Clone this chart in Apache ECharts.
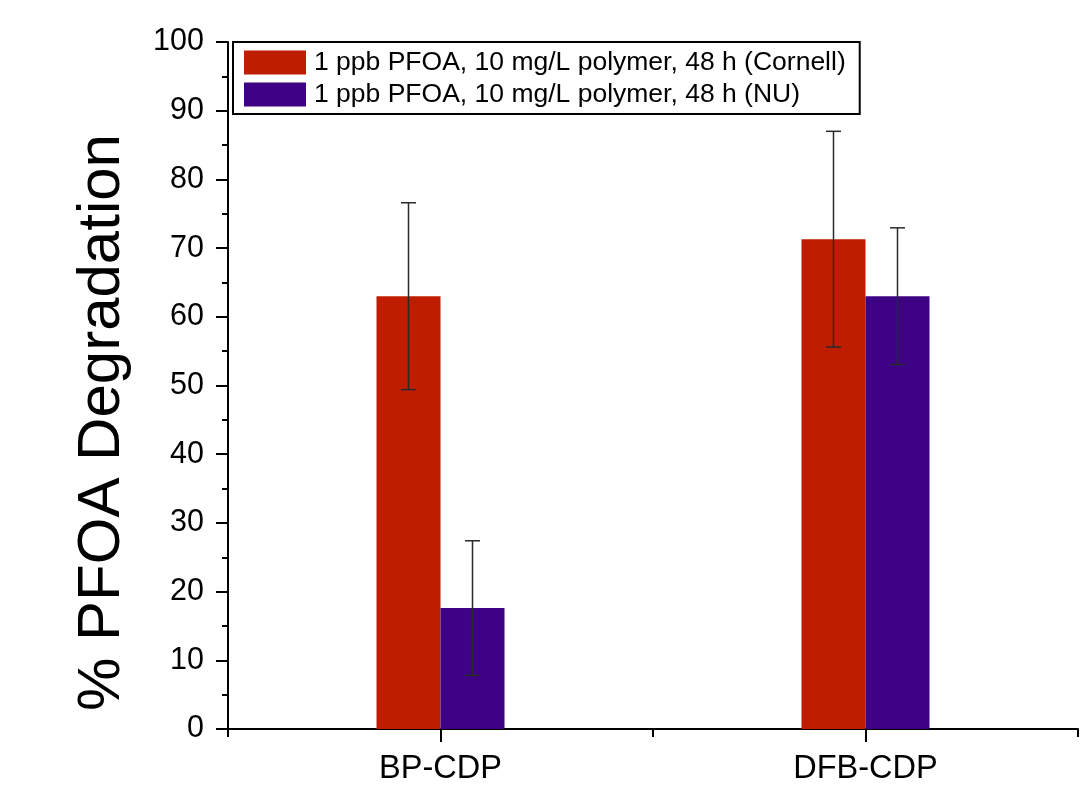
<!DOCTYPE html>
<html>
<head>
<meta charset="utf-8">
<script src="https://cdn.jsdelivr.net/npm/echarts@6/dist/echarts.min.js"></script>
<style>
html,body{margin:0;padding:0;background:#fff;}
#chart{width:1082px;height:797px;}
</style>
</head>
<body>
<div id="chart"></div>
<script>
var categories = ['BP-CDP', 'DFB-CDP'];
var seriesNames = ['1 ppb PFOA, 10 mg/L polymer, 48 h (Cornell)', '1 ppb PFOA, 10 mg/L polymer, 48 h (NU)'];
var cornellValues = [63.0, 71.3];
var cornellErrors = [13.6, 15.7];
var nuValues = [17.6, 63.0];
var nuErrors = [9.8, 9.95];
var yTicks = [0, 10, 20, 30, 40, 50, 60, 70, 80, 90, 100];

var FONT = '"Liberation Sans", Arial, sans-serif';
var BAR_W = 64;
var colors = ['#BF1D00', '#3E0385'];

function errData(vals, errs) {
  return vals.map(function (v, i) { return [i, v, errs[i]]; });
}

function errRender(offset) {
  return function (params, api) {
    var x = api.value(0), y = api.value(1), e = api.value(2);
    var top = api.coord([x, y + e]);
    var bot = api.coord([x, y - e]);
    var cx = top[0] + offset;
    var cap = 7.5;
    var style = { stroke: '#2a2a2a', lineWidth: 1.5 };
    return {
      type: 'group',
      children: [
        { type: 'line', shape: { x1: cx, y1: top[1], x2: cx, y2: bot[1] }, style: style },
        { type: 'line', shape: { x1: cx - cap, y1: top[1], x2: cx + cap, y2: top[1] }, style: style },
        { type: 'line', shape: { x1: cx - cap, y1: bot[1], x2: cx + cap, y2: bot[1] }, style: style }
      ]
    };
  };
}

var chart = echarts.init(document.getElementById('chart'), null, { renderer: 'canvas' });
chart.setOption({
  backgroundColor: '#ffffff',
  animation: false,
  textStyle: { fontFamily: FONT },
  grid: { left: 228, right: 4, top: 42, bottom: 68, containLabel: false },
  legend: {
    orient: 'vertical',
    left: 233,
    top: 42,
    itemWidth: 62,
    itemHeight: 24,
    itemGap: 5,
    padding: [7, 14, 6, 11],
    borderColor: '#000',
    borderWidth: 2,
    backgroundColor: '#fff',
    icon: 'rect',
    textStyle: { fontFamily: FONT, fontSize: 26.5, lineHeight: 25, color: '#000', padding: [0, 0, 0, 3] },
    data: seriesNames
  },
  xAxis: [{
    type: 'category',
    data: categories,
    boundaryGap: true,
    axisLine: { lineStyle: { color: '#000', width: 2 } },
    axisTick: { show: true, alignWithLabel: false, inside: false, length: 8, lineStyle: { color: '#000', width: 2 } },
    axisLabel: { fontFamily: FONT, fontSize: 32.5, color: '#000', margin: 24 },
    splitLine: { show: false }
  }, {
    type: 'category',
    data: categories,
    position: 'bottom',
    boundaryGap: true,
    axisLine: { show: false },
    axisTick: { show: true, alignWithLabel: true, inside: false, length: 13, lineStyle: { color: '#000', width: 2 } },
    axisLabel: { show: false },
    splitLine: { show: false }
  }],
  yAxis: {
    type: 'value',
    min: yTicks[0],
    max: yTicks[yTicks.length - 1],
    interval: 10,
    name: '% PFOA Degradation',
    nameLocation: 'middle',
    nameGap: 96,
    nameTextStyle: { fontFamily: FONT, fontSize: 60, color: '#000', padding: [0, 74, 0, 0] },
    axisLine: { show: true, lineStyle: { color: '#000', width: 2 } },
    axisTick: { show: true, inside: false, length: 12, lineStyle: { color: '#000', width: 2 } },
    minorTick: { show: true, splitNumber: 2, length: 6, lineStyle: { color: '#000', width: 2 } },
    axisLabel: { fontFamily: FONT, fontSize: 30.5, color: '#000', margin: 24 },
    splitLine: { show: false },
    minorSplitLine: { show: false }
  },
  series: [{
    name: seriesNames[0],
    type: 'bar',
    xAxisIndex: 0,
    barWidth: BAR_W,
    barGap: '0%',
    itemStyle: { color: colors[0] },
    data: cornellValues
  }, {
    name: seriesNames[1],
    type: 'bar',
    xAxisIndex: 0,
    barWidth: BAR_W,
    barGap: '0%',
    itemStyle: { color: colors[1] },
    data: nuValues
  }, {
    type: 'custom',
    xAxisIndex: 0,
    renderItem: errRender(-BAR_W / 2),
    data: errData(cornellValues, cornellErrors),
    z: 10
  }, {
    type: 'custom',
    xAxisIndex: 0,
    renderItem: errRender(BAR_W / 2),
    data: errData(nuValues, nuErrors),
    z: 10
  }]
});
</script>
</body>
</html>
